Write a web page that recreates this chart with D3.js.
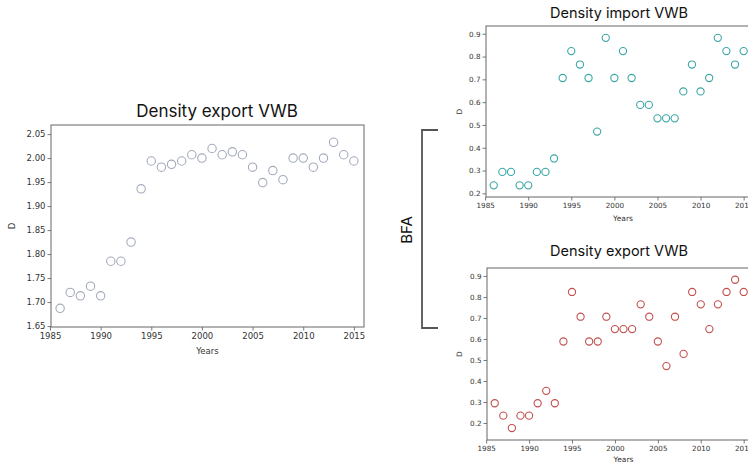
<!DOCTYPE html>
<html>
<head>
<meta charset="utf-8">
<script src="https://cdn.jsdelivr.net/npm/d3@7.9.0/dist/d3.min.js"></script>
<style>
  html, body { margin: 0; padding: 0; background: #fff; }
  svg { display: block; }
  .tick text { font-family: "DejaVu Sans", sans-serif; fill: #333; }
  .title { font-family: "Inter", "Open Sans", sans-serif; fill: #111; }
  .lbl { font-family: "DejaVu Sans", sans-serif; fill: #333; }
</style>
</head>
<body>
<div id="chart"></div>
<script>
const years = d3.range(1986, 2016);

const exportTotal = [
  1.687, 1.720, 1.713, 1.733, 1.713, 1.785, 1.785, 1.825, 1.936, 1.994,
  1.981, 1.987, 1.994, 2.007, 2.000, 2.020, 2.007, 2.013, 2.007, 1.981,
  1.949, 1.974, 1.955, 2.000, 2.000, 1.981, 2.000, 2.033, 2.007, 1.994
];

const importBFA = [
  0.235, 0.294, 0.294, 0.235, 0.235, 0.294, 0.294, 0.353, 0.706, 0.824,
  0.765, 0.706, 0.471, 0.882, 0.706, 0.824, 0.706, 0.588, 0.588, 0.529,
  0.529, 0.529, 0.647, 0.765, 0.647, 0.706, 0.882, 0.824, 0.765, 0.824
];

const exportBFA = [
  0.294, 0.235, 0.176, 0.235, 0.235, 0.294, 0.353, 0.294, 0.588, 0.824,
  0.706, 0.588, 0.588, 0.706, 0.647, 0.647, 0.647, 0.765, 0.706, 0.588,
  0.471, 0.706, 0.529, 0.824, 0.765, 0.647, 0.765, 0.824, 0.882, 0.824
];

const leftTicks = [1.65, 1.70, 1.75, 1.80, 1.85, 1.90, 1.95, 2.00, 2.05];
const rightTicks = [0.2, 0.3, 0.4, 0.5, 0.6, 0.7, 0.8, 0.9];
const yearTicks = [1985, 1990, 1995, 2000, 2005, 2010, 2015];

const W = 748, H = 465;
const svg = d3.select("#chart").append("svg")
  .attr("width", W).attr("height", H);

function panel(opt) {
  const g = svg.append("g");
  const x = d3.scaleLinear().domain(opt.xDomain).range([opt.left, opt.right]);
  const y = d3.scaleLinear().domain(opt.yDomain).range([opt.bottom, opt.top]);

  const xAxis = g.append("g")
    .attr("transform", `translate(0,${opt.bottom})`)
    .call(d3.axisBottom(x).tickValues(yearTicks).tickFormat(d3.format("d")).tickSize(3.5).tickPadding(2));
  const yAxis = g.append("g")
    .attr("transform", `translate(${opt.left},0)`)
    .call(d3.axisLeft(y).tickValues(opt.yTicks).tickFormat(d3.format(opt.fmt)).tickSize(3.5).tickPadding(2));

  [xAxis, yAxis].forEach(a => {
    a.select(".domain").remove();
    a.selectAll(".tick line").attr("stroke", "#555").attr("stroke-width", 0.8);
    a.selectAll(".tick text").style("font-size", opt.tickFont + "px");
  });

  // frame
  g.append("rect")
    .attr("x", opt.left).attr("y", opt.top)
    .attr("width", opt.right - opt.left).attr("height", opt.bottom - opt.top)
    .attr("fill", "none").attr("stroke", "#666").attr("stroke-width", 1);

  g.append("g").selectAll("circle")
    .data(years.map((yr, i) => [yr, opt.values[i]]))
    .join("circle")
    .attr("cx", d => x(d[0]))
    .attr("cy", d => y(d[1]))
    .attr("r", opt.r)
    .attr("fill", "none")
    .attr("stroke", opt.color)
    .attr("stroke-width", 1.1);

  g.append("text").attr("class", "title")
    .attr("x", opt.titleX).attr("y", opt.titleY)
    .attr("text-anchor", "middle")
    .style("font-size", opt.titleFont + "px")
    .text(opt.title);

  g.append("text").attr("class", "lbl")
    .attr("x", (opt.left + opt.right) / 2).attr("y", opt.xLabelY)
    .attr("text-anchor", "middle")
    .style("font-size", opt.labelFont + "px")
    .text("Years");

  g.append("text").attr("class", "lbl")
    .attr("transform", `translate(${opt.yLabelX},${(opt.top + opt.bottom) / 2}) rotate(-90)`)
    .attr("text-anchor", "middle")
    .style("font-size", opt.labelFont + "px")
    .text("D");
}

panel({
  values: exportTotal, color: "#a3abbb", r: 4.2,
  left: 51, right: 364, top: 125, bottom: 327,
  xDomain: [1985.1, 2016], yDomain: [1.648, 2.069],
  yTicks: leftTicks, fmt: ".2f", tickFont: 8.5,
  title: "Density export VWB", titleX: 217, titleY: 117, titleFont: 17,
  xLabelY: 354, yLabelX: 15, labelFont: 8.5
});

panel({
  values: importBFA, color: "#3aa6a6", r: 3.6,
  left: 486, right: 760, top: 26, bottom: 197,
  xDomain: [1985.1, 2016.9], yDomain: [0.184, 0.934],
  yTicks: rightTicks, fmt: ".1f", tickFont: 7.2,
  title: "Density import VWB", titleX: 619, titleY: 18, titleFont: 14.5,
  xLabelY: 221, yLabelX: 462, labelFont: 7.5
});

panel({
  values: exportBFA, color: "#c0504d", r: 3.6,
  left: 487, right: 760, top: 268, bottom: 440,
  xDomain: [1985.1, 2016.9], yDomain: [0.119, 0.938],
  yTicks: rightTicks, fmt: ".1f", tickFont: 7.2,
  title: "Density export VWB", titleX: 619, titleY: 256, titleFont: 14.5,
  xLabelY: 462, yLabelX: 462, labelFont: 7.5
});

// BFA bracket
const bracket = d3.path();
bracket.moveTo(438, 130);
bracket.lineTo(422, 130);
bracket.lineTo(422, 328);
bracket.lineTo(438, 328);
svg.append("path")
  .attr("d", bracket.toString())
  .attr("fill", "none").attr("stroke", "#555").attr("stroke-width", 1.8);

svg.append("text").attr("class", "title")
  .attr("transform", "translate(412,230) rotate(-90)")
  .attr("text-anchor", "middle")
  .style("font-size", "15px")
  .text("BFA");
</script>
</body>
</html>
